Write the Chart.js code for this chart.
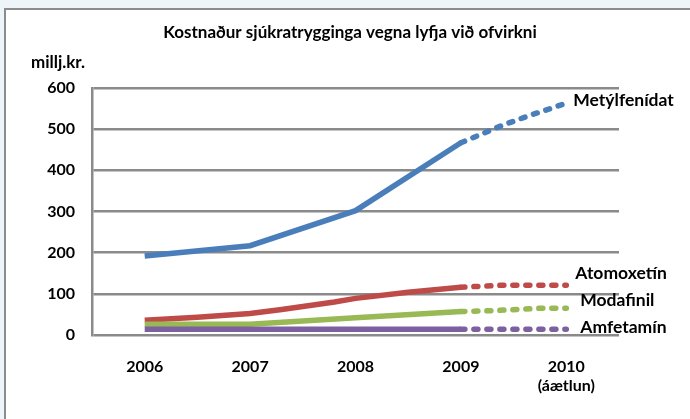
<!DOCTYPE html>
<html>
<head>
<meta charset="utf-8">
<script src="https://cdn.jsdelivr.net/npm/chart.js@4.4.1/dist/chart.umd.min.js"></script>
<style>
  html, body { margin: 0; padding: 0; background: #edf5f9; }
  #wrap { width: 690px; height: 419px; position: relative; }
</style>
</head>
<body>
<div id="wrap"><canvas id="costChart" width="690" height="419"></canvas></div>
<script>
// Ár og merkingar á x-ás
const years = [2006, 2007, 2008, 2009, 2010];
const yearLabels = ['2006', '2007', '2008', '2009', ['2010', '(áætlun)']];
const yTicks = [0, 100, 200, 300, 400, 500, 600];
const seriesNames = ['Metýlfenídat', 'Atomoxetín', 'Modafinil', 'Amfetamín'];

// Lesið af myndinni (x = ár, brot þar sem línan beygir milli ára)
const metylX = [2006, 2007, 2008, 2009];
const metylY = [192, 217, 302, 467];
const metylPlanX = [2009, 2009.4, 2009.65, 2010];
const metylPlanY = [467, 510, 533, 563];

const atomoX = [2006, 2006.5, 2007, 2007.3, 2007.8, 2008, 2008.5, 2009];
const atomoY = [36, 43, 52, 62, 80, 89, 104, 116];
const atomoPlanX = [2009, 2009.4, 2010];
const atomoPlanY = [116, 121, 121];

const modaX = [2006, 2007, 2008, 2009];
const modaY = [26, 26, 42, 57];
const modaPlanX = [2009, 2009.3, 2009.75, 2010];
const modaPlanY = [57, 59, 65, 65];

const amfeX = [2006, 2009];
const amfeY = [14, 14];
const amfePlanX = [2009, 2010];
const amfePlanY = [14, 14];

const colors = ['#4a7ebb', '#be4b48', '#98b954', '#7d60a0'];
const FONT = 'Lato, "Open Sans", sans-serif';

const toPoints = (xs, ys) => xs.map((x, i) => ({ x, y: ys[i] }));

function lineSet(xs, ys, color, dashed) {
  return {
    data: toPoints(xs, ys),
    borderColor: color,
    borderWidth: 5.5,
    borderDash: dashed ? [4, 9] : [],
    borderCapStyle: dashed ? 'round' : 'butt',
    pointRadius: 0,
    fill: false,
    tension: 0
  };
}

const datasets = [
  lineSet(amfeX, amfeY, colors[3], false),
  lineSet(amfePlanX, amfePlanY, colors[3], true),
  lineSet(modaX, modaY, colors[2], false),
  lineSet(modaPlanX, modaPlanY, colors[2], true),
  lineSet(atomoX, atomoY, colors[1], false),
  lineSet(atomoPlanX, atomoPlanY, colors[1], true),
  lineSet(metylX, metylY, colors[0], false),
  lineSet(metylPlanX, metylPlanY, colors[0], true)
];

// Rammi, titill og nöfn lína
const decorations = {
  id: 'decorations',
  beforeDraw(chart) {
    const ctx = chart.ctx;
    ctx.save();
    ctx.fillStyle = '#ffffff';
    ctx.fillRect(5, 9, chart.width, chart.height);
    ctx.strokeStyle = '#8c8c8c';
    ctx.lineWidth = 2;
    ctx.beginPath();
    ctx.moveTo(5, chart.height + 5);
    ctx.lineTo(5, 9);
    ctx.lineTo(chart.width + 5, 9);
    ctx.stroke();
    ctx.restore();
  },
  afterDraw(chart) {
    const ctx = chart.ctx;
    const xs = chart.scales.x;
    const ys = chart.scales.y;
    ctx.save();
    ctx.fillStyle = '#000';
    ctx.textBaseline = 'middle';
    ctx.font = 'bold 17px ' + FONT;
    ctx.textAlign = 'center';
    ctx.fillText('Kostnaður sjúkratrygginga vegna lyfja við ofvirkni', 350, 33);
    ctx.font = 'bold 17px ' + FONT;
    ctx.fillText('millj.kr.', 58, 63);

    const ends = [metylPlanY, atomoPlanY, modaPlanY, amfePlanY].map(a => a[a.length - 1]);
    const offsets = [[7, -3], [9, -12], [14, -8], [14, -2]];
    ctx.textAlign = 'left';
    ctx.font = 'bold 17.5px ' + FONT;
    seriesNames.forEach((name, i) => {
      const px = xs.getPixelForValue(years[years.length - 1]) + offsets[i][0];
      const py = ys.getPixelForValue(ends[i]) + offsets[i][1];
      ctx.fillText(name, px, py);
    });
    ctx.restore();
  }
};

new Chart(document.getElementById('costChart'), {
  type: 'line',
  data: { datasets },
  options: {
    responsive: false,
    animation: false,
    layout: { padding: { top: 88, right: 71, left: 0, bottom: 0 } },
    plugins: {
      legend: { display: false },
      tooltip: { enabled: false },
      title: { display: false }
    },
    scales: {
      x: {
        type: 'linear',
        min: 2005.5,
        max: 2010.5,
        afterBuildTicks: s => { s.ticks = years.map(v => ({ value: v })); },
        afterFit: s => { s.height = 84; },
        grid: { display: false },
        border: { display: false },
        ticks: {
          color: '#000',
          font: { family: FONT, size: 16, weight: 'bold' },
          padding: 14,
          maxRotation: 0,
          autoSkip: false,
          callback: v => yearLabels[years.indexOf(v)]
        }
      },
      y: {
        min: 0,
        max: 600,
        afterBuildTicks: s => { s.ticks = yTicks.map(v => ({ value: v })); },
        afterFit: s => { s.width = 92; },
        grid: { color: '#8a8a8a', lineWidth: 2.5, drawTicks: false },
        border: { display: true, color: '#8a8a8a', width: 2.5 },
        ticks: {
          color: '#000',
          font: { family: FONT, size: 16, weight: 'bold' },
          padding: 17
        }
      }
    }
  },
  plugins: [decorations]
});
</script>
</body>
</html>
